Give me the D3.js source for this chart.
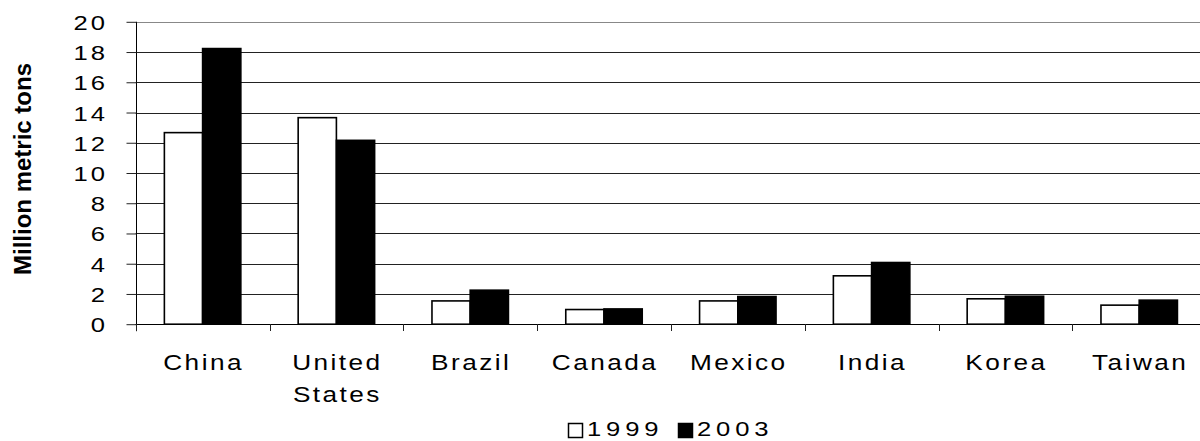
<!DOCTYPE html>
<html>
<head>
<meta charset="utf-8">
<script src="https://cdn.jsdelivr.net/npm/d3@7"></script>
<style>
  html, body { margin: 0; padding: 0; background: #fff; overflow: hidden; }
  svg { display: block; font-family: "Liberation Sans", Arial, sans-serif; }
</style>
</head>
<body>
<svg id="chart" width="1200" height="441"></svg>
<script>
// Production by country, million metric tons
const countries = ["China", "United States", "Brazil", "Canada", "Mexico", "India", "Korea", "Taiwan"];
const years = ["1999", "2003"];
const values1999 = [12.67, 13.66, 1.54, 0.97, 1.54, 3.2, 1.68, 1.26];
const values2003 = [18.23, 12.16, 2.25, 1.01, 1.83, 4.08, 1.85, 1.59];
const yTicks = [0, 2, 4, 6, 8, 10, 12, 14, 16, 18, 20];
const yTitle = "Million metric tons";

const seriesFill = { "1999": "#ffffff", "2003": "#000000" };
const seriesValues = { "1999": values1999, "2003": values2003 };

const svg = d3.select("#chart");
const plotLeft = 135.7, plotRight = 1206.1, plotTop = 21.8, plotBottom = 324.2;
const SX = 1.22; // horizontal stretch of the label lettering

const x = d3.scaleBand().domain(countries).range([plotLeft, plotRight]).paddingInner(0).paddingOuter(0);
const y = d3.scaleLinear().domain([0, 20]).range([plotBottom, plotTop]);

// bar geometry: gap width of 150% of a bar
const bw = x.bandwidth() / 3.5;
const xs = d3.scaleBand().domain(years).range([0.75 * bw, 2.75 * bw]);

// horizontal gridlines
svg.append("g")
  .selectAll("line")
  .data(yTicks)
  .join("line")
  .attr("x1", plotLeft).attr("x2", plotRight)
  .attr("y1", d => Math.round(y(d)) + 0.5).attr("y2", d => Math.round(y(d)) + 0.5)
  .attr("stroke", d => d === 20 ? "#888" : "#222")
  .attr("stroke-width", 1);

// bars
const groups = svg.append("g")
  .selectAll("g")
  .data(countries)
  .join("g")
  .attr("transform", d => `translate(${x(d)},0)`);

groups.selectAll("rect")
  .data((c, i) => years.map(yr => ({ yr, v: seriesValues[yr][i] })))
  .join("rect")
  .attr("x", d => xs(d.yr))
  .attr("width", xs.bandwidth())
  .attr("y", d => y(d.v))
  .attr("height", d => y(0) - y(d.v))
  .attr("fill", d => seriesFill[d.yr])
  .attr("stroke", "#000")
  .attr("stroke-width", 1.6);

// y axis
const yAxis = d3.axisLeft(y).tickValues(yTicks).tickSize(10).tickFormat(d3.format("d"));
const ya = svg.append("g")
  .attr("transform", `translate(${Math.round(plotLeft) + 0.5},0)`)
  .call(yAxis);
ya.select(".domain").attr("stroke", "#000").attr("d", `M0,${y(20)}V${y(0) + 7}`);
ya.selectAll(".tick line").attr("stroke", "#222");
ya.selectAll(".tick text")
  .attr("x", null).attr("dy", null)
  .attr("transform", `translate(-28.5,7.5) scale(${SX},1)`)
  .attr("text-anchor", "end")
  .attr("fill", "#000")
  .attr("font-size", "21px")
  .attr("letter-spacing", "2.5px")
  .attr("font-family", "Liberation Sans, Arial, sans-serif");

// x axis baseline and category ticks
const boundaries = countries.map(c => x(c)).concat([plotRight]);
const xa = svg.append("g");
xa.append("line")
  .attr("x1", plotLeft).attr("x2", plotRight)
  .attr("y1", Math.round(y(0)) + 0.5).attr("y2", Math.round(y(0)) + 0.5)
  .attr("stroke", "#000");
xa.selectAll("line.tk")
  .data(boundaries)
  .join("line")
  .attr("class", "tk")
  .attr("x1", d => Math.round(d) + 0.5).attr("x2", d => Math.round(d) + 0.5)
  .attr("y1", Math.round(y(0))).attr("y2", Math.round(y(0)) + 7)
  .attr("stroke", "#222");

// category labels (wrapped on spaces)
const labels = svg.append("g")
  .selectAll("text")
  .data(countries)
  .join("text")
  .attr("transform", d => `translate(${x(d) + x.bandwidth() / 2 + 1},370) scale(${SX},1)`)
  .attr("text-anchor", "middle")
  .attr("font-size", "21.5px")
  .attr("letter-spacing", "2px")
  .attr("fill", "#000");
labels.each(function(d) {
  d3.select(this).selectAll("tspan")
    .data(d.split(" "))
    .join("tspan")
    .attr("x", 0)
    .attr("dy", (w, i) => i === 0 ? 0 : 32)
    .text(w => w);
});

// y axis title
svg.append("text")
  .attr("transform", "translate(31,169) rotate(-90)")
  .attr("text-anchor", "middle")
  .attr("font-size", "24px")
  .attr("font-weight", "bold")
  .attr("fill", "#000")
  .text(yTitle);

// legend
const legendItems = [
  { yr: "1999", box: 568, text: 587 },
  { yr: "2003", box: 678, text: 697 }
];
const lg = svg.append("g");
lg.selectAll("rect")
  .data(legendItems)
  .join("rect")
  .attr("x", d => d.box + 0.5).attr("y", 423.5)
  .attr("width", 14).attr("height", 14)
  .attr("fill", d => seriesFill[d.yr])
  .attr("stroke", "#000").attr("stroke-width", 1.5);
lg.selectAll("text")
  .data(legendItems)
  .join("text")
  .attr("transform", d => `translate(${d.text},436) scale(${SX},1)`)
  .attr("font-size", "21px")
  .attr("letter-spacing", "4px")
  .attr("fill", "#000")
  .text(d => d.yr);
</script>
</body>
</html>
